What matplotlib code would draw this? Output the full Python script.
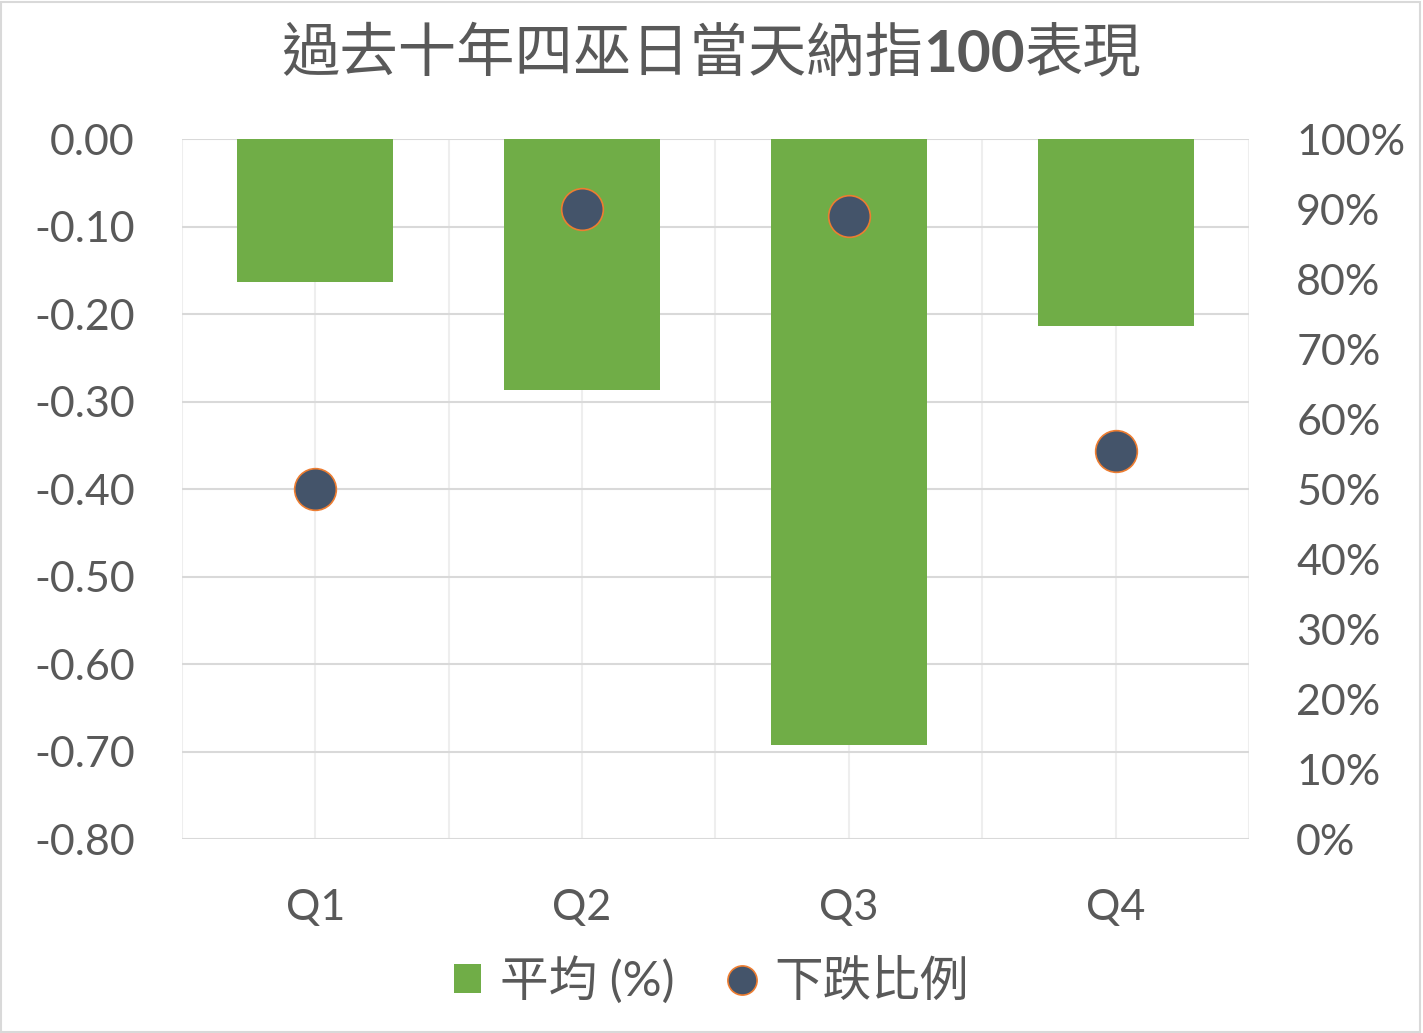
import numpy as np
import matplotlib
matplotlib.use("Agg")
import matplotlib.pyplot as plt
from matplotlib.ticker import FuncFormatter, MultipleLocator
from matplotlib.lines import Line2D
from matplotlib.patches import Patch, Rectangle

plt.rcParams['font.family'] = ['Lato', 'Noto Sans CJK TC', 'DejaVu Sans']

# data
quarters = ['Q1', 'Q2', 'Q3', 'Q4']
avg_pct = [-0.163, -0.287, -0.693, -0.214]      # 平均 (%)
down_ratio = [0.50, 0.90, 0.89, 0.555]          # 下跌比例
title_parts = ['過去十年四巫日當天納指', '100', '表現']

green = '#70AD47'
navy = '#44546A'
orange = '#ED7D31'
txt = '#595959'

fig = plt.figure(figsize=(14.23, 10.33), dpi=100)
fig.patches.append(Rectangle((0.001, 0.001), 0.997, 0.997, transform=fig.transFigure,
                             fill=False, edgecolor='#D9D9D9', linewidth=1.5))

ax = fig.add_axes([0.1279, 0.1878, 0.7498, 0.6776])
x = np.arange(len(quarters))

ax.bar(x, avg_pct, width=0.585, color=green, zorder=2)
ax.set_xlim(-0.5, 3.5)
ax.set_ylim(-0.8, 0)
ax.yaxis.set_major_locator(MultipleLocator(0.1))
ax.yaxis.set_major_formatter(FuncFormatter(lambda v, p: f'{v:.2f}'))
ax.set_xticks(x)
ax.set_xticklabels(quarters)

# gridlines
for yv in np.arange(-0.8, 0.001, 0.1):
    ax.axhline(yv, color='#D9D9D9', lw=1.5, zorder=1)
for xv in np.arange(-0.5, 3.51, 0.5):
    ax.axvline(xv, color='#EEEEEE', lw=1.5, zorder=0.5)

for s in ax.spines.values():
    s.set_visible(False)
ax.tick_params(axis='both', length=0, colors=txt, labelsize=31)
ax.tick_params(axis='y', pad=34)
ax.tick_params(axis='x', pad=36)

ax2 = ax.twinx()
ax2.set_ylim(0, 1)
ax2.yaxis.set_major_locator(MultipleLocator(0.1))
ax2.yaxis.set_major_formatter(FuncFormatter(lambda v, p: f'{v*100:.0f}%'))
ax2.plot(x, down_ratio, linestyle='none', marker='o', markersize=30,
         markerfacecolor=navy, markeredgecolor=orange, markeredgewidth=1.2, zorder=3)
for s in ax2.spines.values():
    s.set_visible(False)
ax2.tick_params(axis='y', length=0, colors=txt, labelsize=31, pad=34)

# title with bold "100"
fig.canvas.draw()
renderer = fig.canvas.get_renderer()
ty = 1 - 55 / 1033
pieces = []
for i, part in enumerate(title_parts):
    t = fig.text(0, ty, part, fontsize=42, color=txt, va='center', ha='left',
                 fontweight='bold' if part == '100' else 'normal',
                 family=['Lato', 'Noto Sans CJK TC'] if part == '100' else ['Noto Sans CJK TC'])
    pieces.append(t)
widths = [p.get_window_extent(renderer).width for p in pieces]
total = sum(widths)
cur = 1423 / 2 - total / 2
for p, w in zip(pieces, widths):
    p.set_x(cur / 1423)
    cur += w

handles = [Patch(facecolor=green, edgecolor='none', label='平均 (%)'),
           Line2D([], [], linestyle='none', marker='o', markersize=21,
                  markerfacecolor=navy, markeredgecolor=orange, markeredgewidth=1.2,
                  label='下跌比例')]
leg = fig.legend(handles=handles, loc='center', bbox_to_anchor=(0.5, 1 - 980 / 1033),
                 ncol=2, frameon=False, fontsize=35, handlelength=0.55, handleheight=0.55,
                 handletextpad=0.4, columnspacing=1.1)
for t in leg.get_texts():
    t.set_color(txt)
    t.set_family(['Lato', 'Noto Sans CJK TC'])

fig.savefig('out.png', dpi=100)
